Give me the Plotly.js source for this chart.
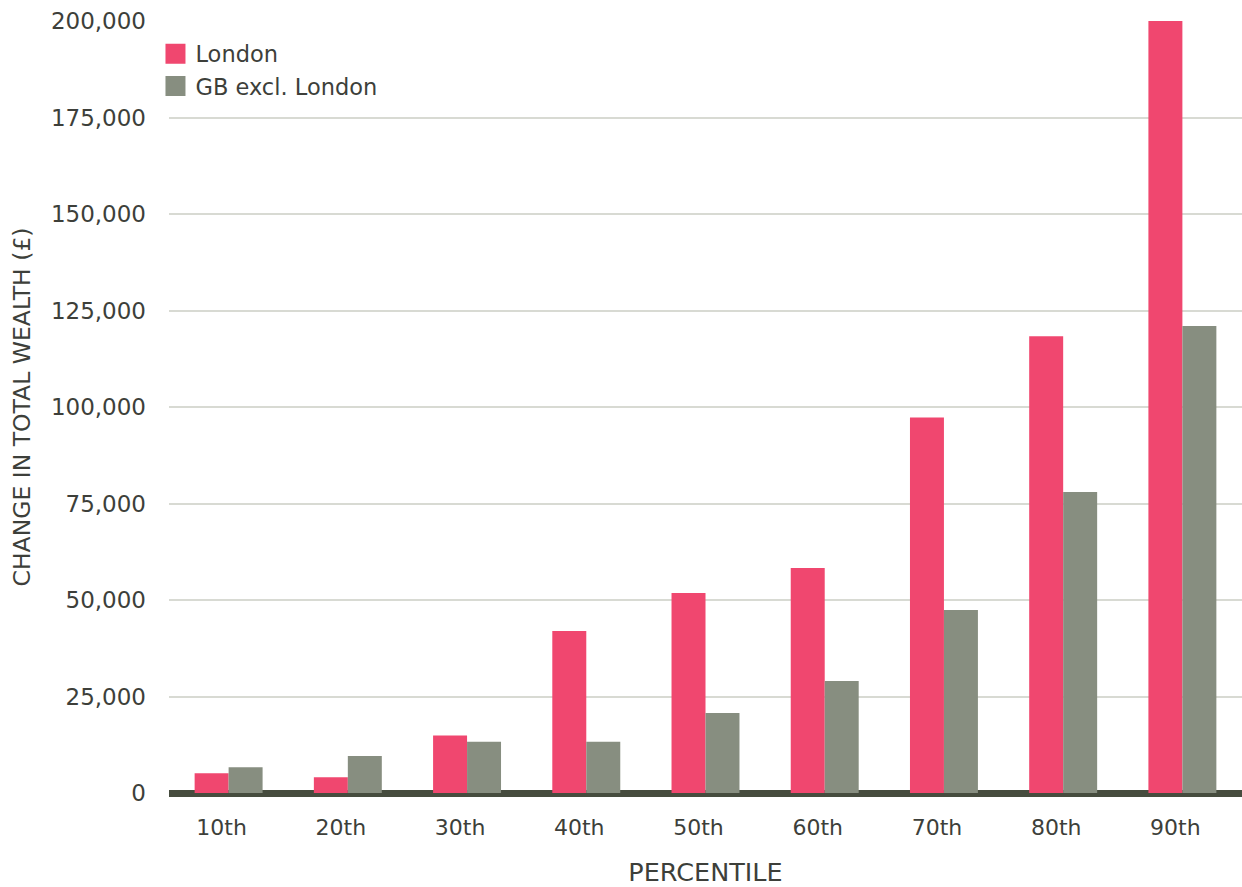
<!DOCTYPE html>
<html>
<head>
<meta charset="utf-8">
<script src="https://cdn.plot.ly/plotly-3.0.1.min.js"></script>
<style>html,body{margin:0;padding:0;background:#fff;}#chart{width:1242px;height:887px;}</style>
</head>
<body>
<div id="chart"></div>
<script>
const percentiles = ["10th", "20th", "30th", "40th", "50th", "60th", "70th", "80th", "90th"];
const londonValues = [5100, 4100, 14900, 42000, 51800, 58300, 97300, 118300, 200000];
const gbExclLondonValues = [6700, 9600, 13300, 13300, 20700, 29000, 47400, 78000, 121000];
const yTickValues = [0, 25000, 50000, 75000, 100000, 125000, 150000, 175000, 200000];
const seriesNames = ["London", "GB excl. London"];

const pink = "#F0476F";
const grey = "#878E80";
const textColor = "#3d3f3a";
const fontFamily = "'DejaVu Sans', sans-serif";

const traces = [
  {type: "bar", x: percentiles, y: londonValues, name: seriesNames[0], marker: {color: pink}, showlegend: false, hoverinfo: "x+y"},
  {type: "bar", x: percentiles, y: gbExclLondonValues, name: seriesNames[1], marker: {color: grey}, showlegend: false, hoverinfo: "x+y"},
  {type: "scatter", mode: "markers", x: [null], y: [null], name: seriesNames[0], marker: {symbol: "square", size: 16, color: pink, line: {width: 4, color: pink}}, showlegend: true},
  {type: "scatter", mode: "markers", x: [null], y: [null], name: seriesNames[1], marker: {symbol: "square", size: 16, color: grey, line: {width: 4, color: grey}}, showlegend: true}
];

const layout = {
  width: 1242, height: 887,
  margin: {l: 169, r: 0, t: 21, b: 94},
  paper_bgcolor: "#ffffff", plot_bgcolor: "#ffffff",
  font: {family: fontFamily, size: 23, color: textColor},
  barmode: "group", bargap: 0.43, bargroupgap: 0,
  showlegend: true,
  legend: {x: -0.0126, y: 0.985, xanchor: "left", yanchor: "top", bgcolor: "rgba(0,0,0,0)",
           font: {family: fontFamily, size: 22.5, color: textColor}, itemwidth: 30, tracegroupgap: 0},
  xaxis: {
    type: "category", showgrid: false, showline: false, zeroline: false, ticks: "",
    ticklabelstandoff: 19, ticklabelshift: -7,
    tickfont: {family: fontFamily, size: 22, color: textColor},
    title: {text: "PERCENTILE", standoff: 28, font: {family: fontFamily, size: 25.5, color: textColor}},
    fixedrange: true
  },
  yaxis: {
    range: [0, 200000], tickvals: yTickValues, tickformat: ",", ticks: "",
    showgrid: true, gridcolor: "#d8dad3", gridwidth: 2,
    zeroline: true, zerolinecolor: "#464c3e", zerolinewidth: 7,
    showline: false, ticklabelstandoff: 22,
    tickfont: {family: fontFamily, size: 23, color: textColor},
    title: {text: "CHANGE IN TOTAL WEALTH (£)", standoff: 13, font: {family: fontFamily, size: 23.5, color: textColor}},
    fixedrange: true
  }
};

Plotly.newPlot("chart", traces, layout, {displayModeBar: false, staticPlot: true});
</script>
</body>
</html>
